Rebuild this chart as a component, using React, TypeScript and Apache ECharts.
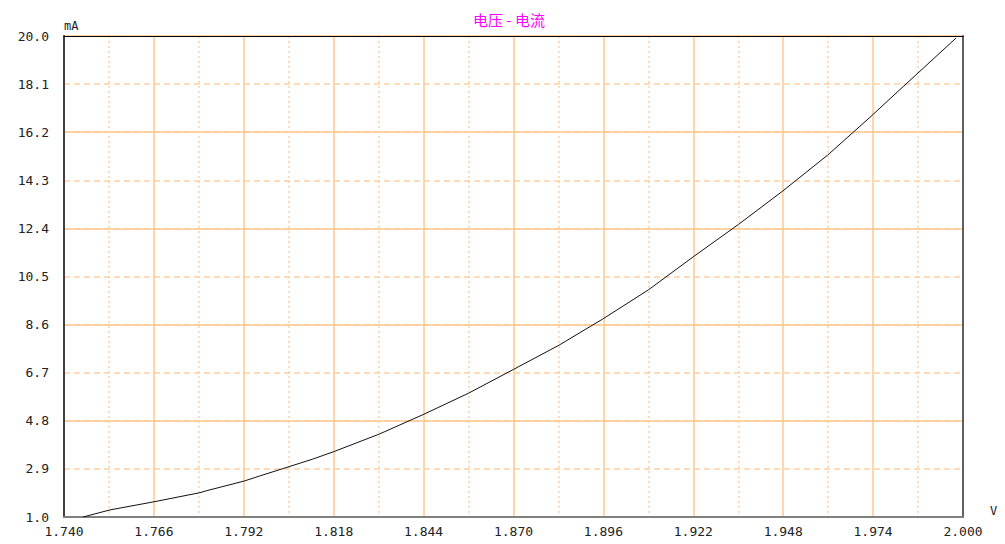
import React, { useEffect, useRef } from "react";
import * as echarts from "echarts";

// Axis ranges (volts, milliamps)
const X_MIN = 1.74;
const X_MAX = 2.0;
const X_STEP = 0.026;
const Y_MIN = 1.0;
const Y_MAX = 20.0;
const Y_STEP = 1.9;

const TITLE = "电压 - 电流";
const X_NAME = "V";
const Y_NAME = "mA";

// Curve
const VOLTS = [
  1.7455, 1.7533, 1.766, 1.7793, 1.7813, 1.7921, 1.7966, 1.8118, 1.818, 1.8311,
  1.8441, 1.857, 1.87, 1.8806, 1.8832, 1.8958, 1.909, 1.922, 1.9351, 1.9479,
  1.9609, 1.9731, 1.9827, 1.998,
];
const MILLIAMPS = [
  1.0, 1.28, 1.6, 1.96, 2.04, 2.42, 2.62, 3.28, 3.58, 4.27,
  5.06, 5.89, 6.83, 7.6, 7.79, 8.82, 9.97, 11.28, 12.56, 13.88,
  15.3, 16.79, 18.0, 19.92,
];

const LABEL_FONT = "'DejaVu Sans Mono', 'Liberation Mono', monospace";
const GRID_SOLID = "#ffc88c";
const GRID_LIGHT = "#ffd0a0";

export default function App() {
  const ref = useRef<HTMLDivElement>(null);

  useEffect(() => {
    if (!ref.current) return;
    const chart = echarts.init(ref.current, undefined, { renderer: "svg" });
    const xSpan = X_MAX - X_MIN;
    const ySpan = Y_MAX - Y_MIN;
    const data = VOLTS.map((v, i) => [v - X_MIN, MILLIAMPS[i] - Y_MIN]);

    chart.setOption({
      animation: false,
      backgroundColor: "#ffffff",
      title: {
        text: TITLE,
        left: 468,
        top: 7,
        textStyle: {
          color: "#ff00ff",
          fontSize: 15,
          fontWeight: "normal",
          fontFamily: "'Noto Sans CJK SC', sans-serif",
        },
      },
      grid: { left: 64, right: 42, top: 36, bottom: 27, containLabel: false },
      xAxis: [
        {
          type: "value",
          position: "bottom",
          min: 0,
          max: xSpan,
          interval: X_STEP,
          name: X_NAME,
          nameLocation: "end",
          nameGap: 27,
          nameTextStyle: {
            color: "#222",
            fontFamily: LABEL_FONT,
            fontSize: 12,
            align: "left",
            verticalAlign: "bottom",
          },
          axisLine: { show: true, onZero: false, lineStyle: { color: "#808080", width: 2 } },
          axisTick: { show: false },
          axisLabel: {
            color: "#222",
            fontFamily: LABEL_FONT,
            fontSize: 13,
            margin: 8,
            formatter: (val: number) => (X_MIN + val).toFixed(3),
          },
          splitLine: { show: true, lineStyle: { color: GRID_SOLID, width: 1.5, type: "solid" } },
          minorTick: { show: false, splitNumber: 2 },
          minorSplitLine: { show: true, lineStyle: { color: GRID_LIGHT, width: 1.5, type: [2, 3] } },
        },
        {
          type: "value",
          position: "top",
          min: 0,
          max: xSpan,
          interval: X_STEP,
          axisLine: { show: true, onZero: false, lineStyle: { color: "#000", width: 1 } },
          axisTick: { show: false },
          axisLabel: { show: false },
          splitLine: { show: false },
        },
      ],
      yAxis: [
        {
          type: "value",
          position: "left",
          min: 0,
          max: ySpan,
          interval: Y_STEP,
          name: Y_NAME,
          nameLocation: "end",
          nameGap: 4,
          nameTextStyle: {
            color: "#222",
            fontFamily: LABEL_FONT,
            fontSize: 12,
            align: "left",
            verticalAlign: "bottom",
          },
          axisLine: { show: true, onZero: false, lineStyle: { color: "#404040", width: 2 } },
          axisTick: { show: false },
          axisLabel: {
            color: "#222",
            fontFamily: LABEL_FONT,
            fontSize: 13,
            margin: 15,
            formatter: (val: number) => (Y_MIN + val).toFixed(1),
          },
          splitLine: { show: true, lineStyle: { color: GRID_LIGHT, width: 1.5, type: [6, 4] } },
        },
        {
          type: "value",
          position: "right",
          min: 0,
          max: ySpan,
          interval: Y_STEP * 2,
          axisLine: { show: true, onZero: false, lineStyle: { color: "#606060", width: 2 } },
          axisTick: { show: false },
          axisLabel: { show: false },
          splitLine: { show: true, lineStyle: { color: GRID_SOLID, width: 1.5, type: "solid" } },
        },
      ],
      series: [
        {
          type: "line",
          xAxisIndex: 0,
          yAxisIndex: 0,
          data,
          showSymbol: false,
          symbol: "none",
          lineStyle: { color: "#111", width: 1 },
          z: 5,
        },
      ],
    });

    return () => chart.dispose();
  }, []);

  return (
    <div
      ref={ref}
      style={{ position: "fixed", left: 0, top: 0, width: 1005, height: 544 }}
    />
  );
}
